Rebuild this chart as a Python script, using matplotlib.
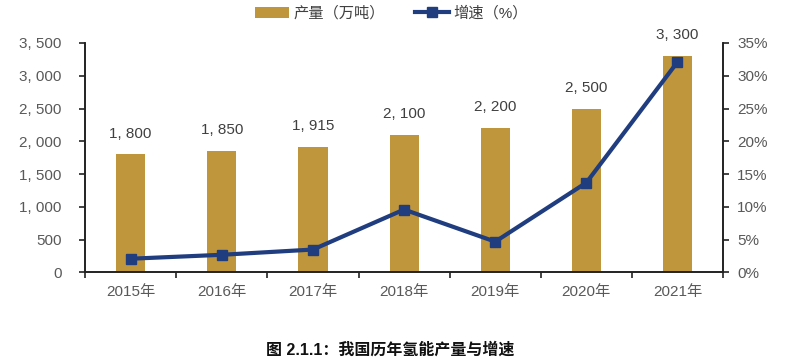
import matplotlib
matplotlib.use('Agg')

import matplotlib.pyplot as plt
from matplotlib.ticker import FuncFormatter, FixedLocator
import numpy as np

plt.rcParams['font.family'] = ['Liberation Sans', 'Noto Sans CJK SC']

years = ['2015年', '2016年', '2017年', '2018年', '2019年', '2020年', '2021年']
output = [1800, 1850, 1915, 2100, 2200, 2500, 3300]
growth = [2.1, 2.7, 3.5, 9.6, 4.7, 13.7, 32.1]

bar_color = '#C0963C'
line_color = '#1F3D7F'
text_color = '#595959'


def comma(v):
    return f'{int(v):,}'.replace(',', ', ')


fig = plt.figure(figsize=(7.88, 3.57), dpi=100)
ax = fig.add_axes([0.108, 0.2367, 0.8096, 0.643])
x = np.arange(len(years))

bars = ax.bar(x, output, width=0.32, color=bar_color, label='产量（万吨）', zorder=2)
for xi, v in zip(x, output):
    ax.annotate(comma(v), (xi, v), xytext=(0, 10), textcoords='offset points',
                ha='center', va='bottom', fontsize=11, color='#404040')

ax.set_ylim(0, 3500)
ax.set_yticks(np.arange(0, 3501, 500))
ax.yaxis.set_major_formatter(FuncFormatter(lambda v, p: comma(v)))
ax.set_xlim(-0.5, len(years) - 0.5)
ax.set_xticks(x)
ax.set_xticklabels(years)
ax.xaxis.set_minor_locator(FixedLocator(np.arange(-0.5, len(years), 1)))
ax.tick_params(axis='x', which='major', length=0, pad=9, labelsize=11, labelcolor=text_color)
ax.tick_params(axis='x', which='minor', length=4, width=1.2, direction='out', color='#222222')
ax.tick_params(axis='y', length=4, width=1.2, direction='out', labelsize=11,
               labelcolor=text_color, pad=13, color='#222222')

ax2 = ax.twinx()
line, = ax2.plot(x, growth, color=line_color, lw=3, marker='s', markersize=7.5,
                 label='增速（%）', zorder=3)
ax2.set_ylim(0, 35)
ax2.set_yticks(np.arange(0, 36, 5))
ax2.yaxis.set_major_formatter(FuncFormatter(lambda v, p: f'{int(v)}%'))
ax2.tick_params(axis='y', length=4, width=1.2, direction='out', labelsize=11,
                labelcolor=text_color, pad=6, color='#222222')

for a in (ax, ax2):
    a.spines['top'].set_visible(False)
    for s in ('left', 'right', 'bottom'):
        a.spines[s].set_color('#222222')
        a.spines[s].set_linewidth(1.2)

fig.legend(handles=[bars, line], loc='center', bbox_to_anchor=(0.497, 0.963), ncol=2,
           frameon=False, fontsize=11, handlelength=2.2, columnspacing=2.0,
           handletextpad=0.3, labelcolor='#404040')

fig.text(0.495, 0.02, '图 2.1.1：我国历年氢能产量与增速', ha='center', va='center',
         fontsize=11.5, fontweight='bold', color='#111111')

plt.savefig('out.png', dpi=100)
